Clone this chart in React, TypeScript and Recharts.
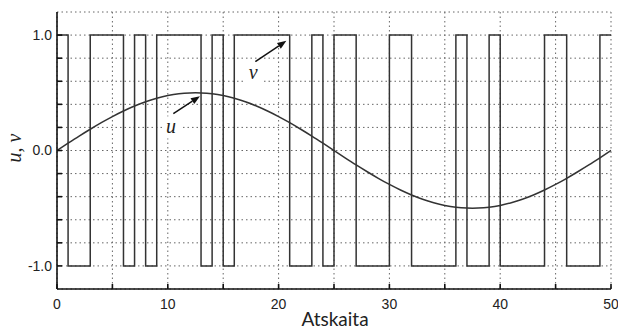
import React from "react"
import {
  LineChart,
  Line,
  XAxis,
  YAxis,
  CartesianGrid,
  ReferenceLine,
  ReferenceDot,
} from "recharts"

// x ticks (Atskaita) and y ticks
const xTicks = [0, 5, 10, 15, 20, 25, 30, 35, 40, 45, 50]
const yTicks = [-1, -0.8, -0.6, -0.4, -0.2, 0, 0.2, 0.4, 0.6, 0.8, 1]

// u: smooth reference curve, read at each step
const uSteps = [
  0, 1, 2, 3, 4, 5, 6, 7, 8, 9, 10, 11, 12, 13, 14, 15, 16, 17, 18, 19, 20, 21, 22, 23, 24, 25,
  26, 27, 28, 29, 30, 31, 32, 33, 34, 35, 36, 37, 38, 39, 40, 41, 42, 43, 44, 45, 46, 47, 48, 49, 50,
]
const uValues = [
  0, 0.063, 0.125, 0.184, 0.241, 0.294, 0.342, 0.385, 0.422, 0.452, 0.476, 0.492, 0.499, 0.499,
  0.492, 0.476, 0.452, 0.422, 0.385, 0.342, 0.294, 0.241, 0.184, 0.125, 0.063, 0, -0.063, -0.125,
  -0.184, -0.241, -0.294, -0.342, -0.385, -0.422, -0.452, -0.476, -0.492, -0.499, -0.499, -0.492,
  -0.476, -0.452, -0.422, -0.385, -0.342, -0.294, -0.241, -0.184, -0.125, -0.063, 0,
]

// v: switching signal, level held from each switch time to the next
const vSwitchTimes = [0, 1, 3, 6, 7, 8, 9, 13, 14, 15, 16, 21, 23, 24, 25, 27, 30, 32, 36, 37, 39, 40, 44, 46, 49, 50]
const vLevels = [1, -1, 1, -1, 1, -1, 1, -1, 1, -1, 1, -1, 1, -1, 1, -1, 1, -1, 1, -1, 1, -1, 1, -1, 1, 1]

const uData = uSteps.map((t, i) => ({ t, u: uValues[i] }))
const vData = vSwitchTimes.map((t, i) => ({ t, v: vLevels[i] }))

const tickFont = { fontFamily: "'Liberation Sans', Arial, sans-serif", fontSize: 14, fill: "#222" }
const ink = "#333"

const fmtX = (v: number) => (v % 10 === 0 ? String(v) : "")
const fmtY = (v: number) => (Math.abs(v) === 1 || v === 0 ? v.toFixed(1) : "")
const blank = () => ""

const Arrow = (props: any) => {
  const { x1, y1, x2, y2 } = props
  if ([x1, y1, x2, y2].some((n) => typeof n !== "number")) return null
  const a = Math.atan2(y2 - y1, x2 - x1)
  const len = 9
  const w = 3.5
  const bx = x2 - len * Math.cos(a)
  const by = y2 - len * Math.sin(a)
  const px = -Math.sin(a) * w
  const py = Math.cos(a) * w
  return (
    <g>
      <line x1={x1} y1={y1} x2={bx} y2={by} stroke="#111" strokeWidth={1.5} />
      <polygon points={`${x2},${y2} ${bx + px},${by + py} ${bx - px},${by - py}`} fill="#111" />
    </g>
  )
}

const tag = (txt: string) => (props: any) => {
  const { cx, cy } = props
  return (
    <g>
      <rect x={cx - 9} y={cy - 11} width={18} height={22} fill="#fff" />
      <text
        x={cx}
        y={cy + 6}
        textAnchor="middle"
        fontFamily="'Liberation Serif', 'DejaVu Serif', serif"
        fontStyle="italic"
        fontSize={20}
        fill="#222"
      >
        {txt}
      </text>
    </g>
  )
}

export default function App() {
  return (
    <div style={{ position: "absolute", left: 0, top: 0, width: 618, height: 331, background: "#fff" }}>
      <LineChart width={618} height={331} margin={{ top: 12, right: 7, bottom: 0, left: 0 }}>
        <CartesianGrid stroke="#666" strokeDasharray="1.5 3" strokeWidth={1} />
        <XAxis
          dataKey="t"
          type="number"
          domain={[0, 50]}
          ticks={xTicks}
          interval={0}
          height={42}
          stroke="#111"
          strokeWidth={1.6}
          tickSize={-5}
          tickMargin={15}
          tick={tickFont}
          tickFormatter={fmtX}
          label={{
            content: () => (
              <text
                x={335}
                y={326}
                textAnchor="middle"
                fontFamily="Lato, 'Open Sans', sans-serif"
                fontSize={19}
                fill="#222"
              >
                Atskaita
              </text>
            ),
          }}
        />
        <XAxis
          xAxisId="top"
          orientation="top"
          type="number"
          domain={[0, 50]}
          ticks={xTicks}
          interval={0}
          height={0}
          stroke="#111"
          strokeWidth={1.6}
          tickSize={-5}
          tickFormatter={blank}
        />
        <YAxis
          type="number"
          domain={[-1.2, 1.2]}
          ticks={yTicks}
          interval={0}
          width={57}
          stroke="#111"
          strokeWidth={1.6}
          tickSize={-5}
          tickMargin={10}
          tick={tickFont}
          tickFormatter={fmtY}
          label={{
            content: () => (
              <text
                x={21}
                y={148}
                transform="rotate(-90, 21, 148)"
                textAnchor="middle"
                fontFamily="'Liberation Serif', 'DejaVu Serif', serif"
                fontStyle="italic"
                fontSize={20}
                fill="#222"
              >
                u, v
              </text>
            ),
          }}
        />
        <YAxis
          yAxisId="right"
          orientation="right"
          type="number"
          domain={[-1.2, 1.2]}
          ticks={yTicks}
          interval={0}
          width={0}
          stroke="#111"
          strokeWidth={1.6}
          tickSize={-5}
          tickFormatter={blank}
        />
        <Line
          data={vData}
          dataKey="v"
          type="stepAfter"
          stroke={ink}
          strokeWidth={1.5}
          dot={false}
          isAnimationActive={false}
        />
        <Line
          data={uData}
          dataKey="u"
          type="natural"
          stroke={ink}
          strokeWidth={1.5}
          dot={false}
          isAnimationActive={false}
        />
        <ReferenceLine
          segment={[
            { x: 10.5, y: 0.32 },
            { x: 12.9, y: 0.47 },
          ]}
          shape={Arrow}
        />
        <ReferenceLine
          segment={[
            { x: 17.9, y: 0.77 },
            { x: 20.7, y: 0.95 },
          ]}
          shape={Arrow}
        />
        <ReferenceDot x={10.3} y={0.2} r={0} shape={tag("u")} />
        <ReferenceDot x={17.7} y={0.67} r={0} shape={tag("v")} />
      </LineChart>
    </div>
  )
}
